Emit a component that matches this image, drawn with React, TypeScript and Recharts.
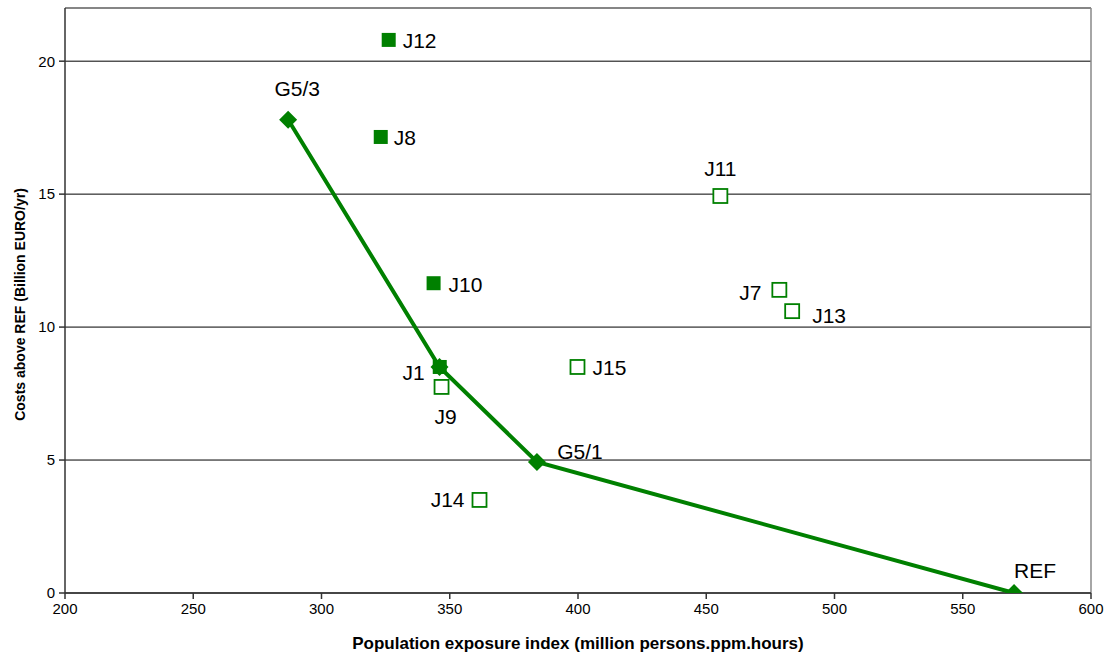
import { CartesianGrid, ReferenceLine, Scatter, ScatterChart, XAxis, YAxis } from "recharts";

// efficiency frontier (diamonds joined by a line)
const frontierNames = ["G5/3", "J1", "G5/1", "REF"];
const frontierX = [287, 346, 384, 570];
const frontierY = [17.8, 8.5, 4.93, 0];

// filled squares
const filledNames = ["J12", "J8", "J10", "J1"];
const filledX = [326.2, 323.1, 343.7, 346.1];
const filledY = [20.8, 17.15, 11.65, 8.5];

// open squares
const openNames = ["J9", "J14", "J15", "J11", "J7", "J13"];
const openX = [346.8, 361.6, 399.8, 455.5, 478.5, 483.5];
const openY = [7.75, 3.5, 8.5, 14.93, 11.4, 10.6];

const xTicks = [200, 250, 300, 350, 400, 450, 500, 550, 600];
const yTicks = [0, 5, 10, 15, 20];

const GREEN = "#008000";
const FONT = "'Liberation Sans', Arial, sans-serif";

const frontier = frontierNames.map((name, i) => ({ name, x: frontierX[i], y: frontierY[i] }));
const filled = filledNames.map((name, i) => ({ name, x: filledX[i], y: filledY[i] }));
const open = openNames.map((name, i) => ({ name, x: openX[i], y: openY[i] }));

// where each label sits relative to its marker: dx, dy, anchor
const frontierLabels = {
  "G5/3": [9, -31, "middle"],
  "G5/1": [43, -10, "middle"],
  REF: [21, -23, "middle"],
};
const squareLabels = {
  J12: [14, 1, "start"],
  J8: [13, 1, "start"],
  J10: [15, 1, "start"],
  J1: [-15, 6, "end"],
  J9: [4, 30, "middle"],
  J14: [-15, 0, "end"],
  J15: [15, 1, "start"],
  J11: [0, -27, "middle"],
  J7: [-18, 3, "end"],
  J13: [20, 4, "start"],
};

const pointLabel = (cx, cy, name, table) => {
  const pos = table[name];
  if (!pos) return null;
  return (
    <text
      x={cx + pos[0]}
      y={cy + pos[1]}
      textAnchor={pos[2]}
      dominantBaseline="central"
      fontSize={21}
      fontFamily={FONT}
      fill="#000"
    >
      {name}
    </text>
  );
};

const Diamond = (props) => {
  const { cx, cy, payload } = props;
  const r = 9;
  return (
    <g>
      <path d={`M${cx},${cy - r}L${cx + r},${cy}L${cx},${cy + r}L${cx - r},${cy}Z`} fill={GREEN} />
      {pointLabel(cx, cy, payload.name, frontierLabels)}
    </g>
  );
};

const FilledSquare = (props) => {
  const { cx, cy, payload } = props;
  return (
    <g>
      <rect x={cx - 7} y={cy - 7} width={14} height={14} fill={GREEN} />
      {pointLabel(cx, cy, payload.name, squareLabels)}
    </g>
  );
};

const OpenSquare = (props) => {
  const { cx, cy, payload } = props;
  return (
    <g>
      <rect x={cx - 7} y={cy - 7} width={14} height={14} fill="#fff" stroke={GREEN} strokeWidth={1.8} />
      {pointLabel(cx, cy, payload.name, squareLabels)}
    </g>
  );
};

const tickStyle = { fontSize: 15, fontFamily: FONT, fill: "#000" };

const App = () => {
  return (
    <div style={{ position: "absolute", left: 0, top: 0, background: "#fff" }}>
      <ScatterChart width={1110} height={657} margin={{ top: 8, right: 19, bottom: 0, left: 0 }}>
        <CartesianGrid vertical={false} stroke="#000" strokeWidth={1} />
        <ReferenceLine y={22} stroke="#888" strokeWidth={1.5} />
        <ReferenceLine x={600} stroke="#888" strokeWidth={1.5} />
        <XAxis
          type="number"
          dataKey="x"
          domain={[200, 600]}
          ticks={xTicks}
          allowDataOverflow
          height={64}
          tickSize={6}
          stroke="#333"
          strokeWidth={1.5}
          tick={tickStyle}
          tickMargin={4}
          label={{
            content: ({ viewBox }) => (
              <text
                x={viewBox.x + viewBox.width / 2}
                y={viewBox.y + 50}
                textAnchor="middle"
                dominantBaseline="central"
                fontSize={17}
                fontWeight="bold"
                fontFamily={FONT}
              >
                Population exposure index (million persons.ppm.hours)
              </text>
            ),
          }}
        />
        <YAxis
          type="number"
          dataKey="y"
          domain={[0, 22]}
          ticks={yTicks}
          allowDataOverflow
          width={65}
          tickSize={6}
          stroke="#333"
          strokeWidth={1.5}
          tick={tickStyle}
          tickMargin={4}
          label={{
            content: ({ viewBox }) => {
              const x = viewBox.x + 20;
              const y = viewBox.y + viewBox.height / 2 + 4;
              return (
                <text
                  x={x}
                  y={y}
                  transform={`rotate(-90, ${x}, ${y})`}
                  textAnchor="middle"
                  dominantBaseline="central"
                  fontSize={14}
                  fontWeight="bold"
                  fontFamily={FONT}
                >
                  Costs above REF (Billion EURO/yr)
                </text>
              );
            },
          }}
        />
        <Scatter data={filled} shape={FilledSquare} isAnimationActive={false} />
        <Scatter data={open} shape={OpenSquare} isAnimationActive={false} />
        <Scatter
          data={frontier}
          shape={Diamond}
          line={{ stroke: GREEN, strokeWidth: 4 }}
          lineType="joint"
          isAnimationActive={false}
        />
      </ScatterChart>
    </div>
  );
};

export default App;
